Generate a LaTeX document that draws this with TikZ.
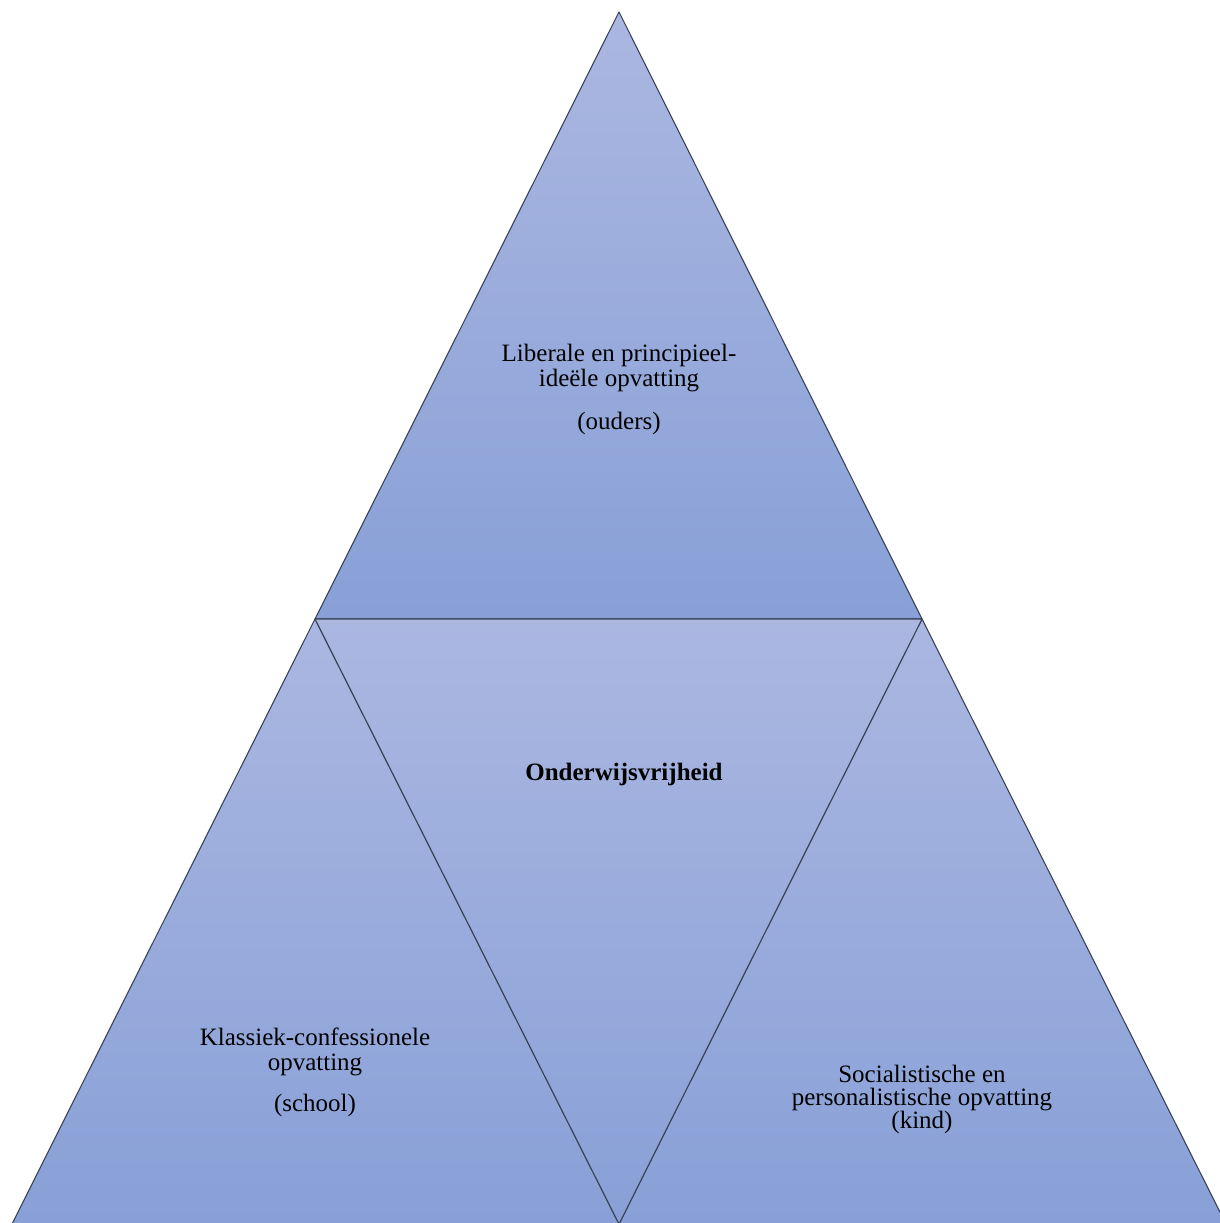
\documentclass[tikz,border=0pt]{standalone}
\usepackage{fontspec}
\setmainfont{Liberation Serif}
\definecolor{tritop}{HTML}{ABB7E1}
\definecolor{tribot}{HTML}{88A0D7}
\definecolor{triline}{HTML}{3A4458}
\tikzset{
  tri/.style={top color=tritop, bottom color=tribot, draw=triline, line width=1.1pt, line join=round},
  lbl/.style={font=\fontsize{25}{24.5}\selectfont, align=center, inner sep=0pt, text=black},
}
\begin{document}
\begin{tikzpicture}[x=1pt,y=-1pt]
\useasboundingbox (0,0) rectangle (1219,1223);
\coordinate (A) at (619,12);
\coordinate (L) at (315,619);
\coordinate (R) at (922,619);
\coordinate (BL) at (12,1224);
\coordinate (BR) at (1226,1224);
\coordinate (BC) at (619,1224);
\shade[tri] (A) -- (R) -- (L) -- cycle;
\shade[tri] (L) -- (BC) -- (BL) -- cycle;
\shade[tri] (R) -- (BR) -- (BC) -- cycle;
\shade[tri] (L) -- (R) -- (BC) -- cycle;
\node[lbl] (t1) at (619,368) {Liberale en principieel-\\ideële opvatting};
\node[lbl] (t2) at (619,423) {(ouders)};
\node[lbl, font=\fontsize{25}{24.5}\selectfont\bfseries] (c) at (624,774) {Onderwijsvrijheid};
\node[lbl] (l1) at (315,1052) {Klassiek-confessionele\\opvatting};
\node[lbl] (l2) at (315,1105) {(school)};
\node[lbl, font=\fontsize{25}{23}\selectfont] (r1) at (922,1099) {Socialistische en\\personalistische opvatting\\(kind)};
\end{tikzpicture}
\end{document}
